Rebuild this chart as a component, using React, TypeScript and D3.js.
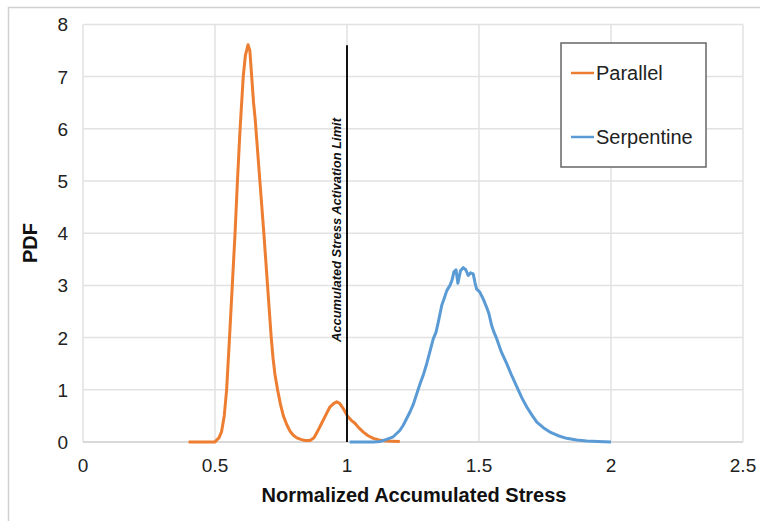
import React from "react";
import * as d3 from "d3";

const xTicks = [0, 0.5, 1, 1.5, 2, 2.5];
const yTicks = [0, 1, 2, 3, 4, 5, 6, 7, 8];

const parallelX = [0.40, 0.50, 0.505, 0.515, 0.525, 0.535, 0.544, 0.555, 0.5655, 0.576, 0.585, 0.595, 0.607, 0.615, 0.625, 0.632, 0.639, 0.646, 0.652, 0.658, 0.67, 0.685, 0.699, 0.713, 0.72, 0.727, 0.737, 0.748, 0.759, 0.772, 0.785, 0.797, 0.81, 0.825, 0.84, 0.86, 0.875, 0.888, 0.904, 0.92, 0.935, 0.95, 0.961, 0.972, 0.986, 1.0, 1.015, 1.03, 1.045, 1.062, 1.08, 1.1, 1.12, 1.15, 1.2];
const parallelY = [0, 0, 0.03, 0.08, 0.2, 0.5, 1.0, 2.0, 3.0, 4.0, 5.0, 6.0, 7.0, 7.4, 7.61, 7.5, 7.0, 6.5, 6.2, 5.8, 5.0, 4.0, 3.0, 2.0, 1.6, 1.3, 1.0, 0.72, 0.5, 0.33, 0.2, 0.13, 0.08, 0.05, 0.03, 0.03, 0.08, 0.2, 0.36, 0.52, 0.67, 0.74, 0.77, 0.74, 0.64, 0.51, 0.42, 0.36, 0.27, 0.19, 0.12, 0.07, 0.04, 0.02, 0.01];

const serpX = [1.01, 1.1, 1.125, 1.15, 1.175, 1.2, 1.213, 1.226, 1.239, 1.251, 1.264, 1.277, 1.29, 1.302, 1.315, 1.327, 1.337, 1.346, 1.359, 1.368, 1.378, 1.39, 1.398, 1.405, 1.413, 1.42, 1.43, 1.44, 1.45, 1.459, 1.468, 1.478, 1.485, 1.491, 1.503, 1.515, 1.529, 1.538, 1.548, 1.557, 1.567, 1.585, 1.605, 1.625, 1.643, 1.662, 1.681, 1.7, 1.719, 1.745, 1.769, 1.8, 1.832, 1.87, 1.908, 1.95, 2.0];
const serpY = [0, 0, 0.01, 0.05, 0.1, 0.22, 0.32, 0.45, 0.58, 0.72, 0.92, 1.12, 1.3, 1.5, 1.75, 1.98, 2.1, 2.3, 2.62, 2.75, 2.9, 3.0, 3.1, 3.26, 3.3, 3.04, 3.28, 3.34, 3.3, 3.19, 3.24, 3.22, 3.05, 2.93, 2.87, 2.75, 2.58, 2.45, 2.23, 2.1, 1.98, 1.72, 1.5, 1.26, 1.06, 0.85, 0.67, 0.52, 0.38, 0.27, 0.19, 0.12, 0.07, 0.04, 0.02, 0.01, 0.0];

const limitX = 1;
const limitTop = 7.6;
const seriesNames = ["Parallel", "Serpentine"];
const colors = ["#ED7D31", "#5B9BD5"];

export default function App() {
  const x = d3.scaleLinear().domain([0, 2.5]).range([83, 743]);
  const y = d3.scaleLinear().domain([0, 8]).range([442, 24.4]);
  const line = d3
    .line<[number, number]>()
    .x((d) => x(d[0]))
    .y((d) => y(d[1]));
  const pData: [number, number][] = parallelX.map((v, i) => [v, parallelY[i]]);
  const sData: [number, number][] = serpX.map((v, i) => [v, serpY[i]]);
  const font = "'Liberation Sans', Arial, sans-serif";

  return (
    <svg
      width={760}
      height={521}
      style={{ position: "absolute", left: 0, top: 0, background: "#fff" }}
      fontFamily={font}
    >
      <rect x={8.5} y={7.5} width={800} height={600} fill="none" stroke="#d0d0d0" strokeWidth={1.5} />
      {yTicks.map((t) => (
        <line key={"hy" + t} x1={x(0)} x2={x(2.5)} y1={y(t)} y2={y(t)} stroke="#e2e2e2" strokeWidth={1.5} />
      ))}
      {xTicks.map((t) => (
        <line key={"vx" + t} x1={x(t)} x2={x(t)} y1={y(0)} y2={y(8)} stroke="#e2e2e2" strokeWidth={1.5} />
      ))}
      <line x1={x(0)} x2={x(2.5)} y1={y(0)} y2={y(0)} stroke="#d9d9d9" strokeWidth={2} />
      {yTicks.map((t) => (
        <text key={"ly" + t} x={68} y={y(t) + 7} textAnchor="end" fontSize={19} fill="#222">
          {t}
        </text>
      ))}
      {xTicks.map((t) => (
        <text key={"lx" + t} x={x(t)} y={472} textAnchor="middle" fontSize={19} fill="#222">
          {t}
        </text>
      ))}
      <text x={414} y={502} textAnchor="middle" fontSize={20} fontWeight="bold" fill="#111">
        Normalized Accumulated Stress
      </text>
      <text
        transform="translate(37,243) rotate(-90)"
        textAnchor="middle"
        fontSize={20}
        fontWeight="bold"
        fill="#111"
      >
        PDF
      </text>
      <path d={line(pData) || ""} fill="none" stroke={colors[0]} strokeWidth={3} strokeLinejoin="round" />
      <path d={line(sData) || ""} fill="none" stroke={colors[1]} strokeWidth={3} strokeLinejoin="round" />
      <line x1={x(limitX)} x2={x(limitX)} y1={y(0)} y2={y(limitTop)} stroke="#111" strokeWidth={2} />
      <text
        transform={`translate(${x(limitX) - 6},230) rotate(-90)`}
        textAnchor="middle"
        fontSize={12}
        fontWeight="bold"
        fontStyle="italic"
        fill="#111"
        textLength={224}
        lengthAdjust="spacingAndGlyphs"
      >
        Accumulated Stress Activation Limit
      </text>
      <rect x={561} y={43} width={145} height={124} fill="#fff" stroke="#666" strokeWidth={1.5} />
      {seriesNames.map((n, i) => (
        <g key={n}>
          <line x1={571} x2={594} y1={73 + i * 64} y2={73 + i * 64} stroke={colors[i]} strokeWidth={2.5} />
          <text x={596} y={80 + i * 64} fontSize={20} fill="#222">
            {n}
          </text>
        </g>
      ))}
    </svg>
  );
}
